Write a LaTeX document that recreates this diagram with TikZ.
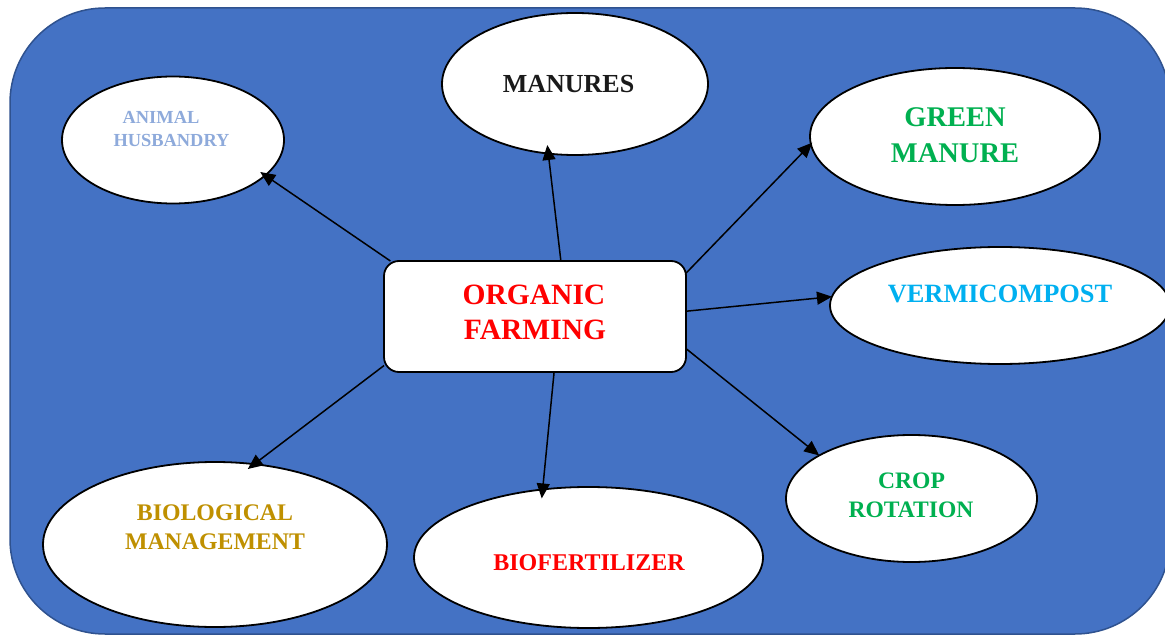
\documentclass[tikz,border=0pt]{standalone}
\usepackage{fontspec}
\setmainfont{Liberation Serif}
\usetikzlibrary{arrows.meta,shapes.geometric}
\definecolor{bgblue}{HTML}{4472C4}
\definecolor{bgedge}{HTML}{2F528F}
\definecolor{lightblue}{HTML}{8EAADB}
\definecolor{grn}{HTML}{00B050}
\definecolor{cyanb}{HTML}{00B0F0}
\definecolor{goldc}{HTML}{BF9000}
\definecolor{txtblack}{HTML}{1A1A1A}
\definecolor{redc}{HTML}{FF0000}
\begin{document}
\begin{tikzpicture}[x=1pt,y=-1pt,
  oval/.style={ellipse,draw=black,line width=1.8pt,fill=white,inner sep=0pt,outer sep=0pt},
  lbl/.style={anchor=base,inner sep=0pt,outer sep=0pt},
  conn/.style={line width=1.5pt,draw=black,-{Triangle[length=15pt,width=13pt]}}]
\useasboundingbox (0,0) rectangle (1165,636);
\clip (0,0) rectangle (1165,636);
\draw[fill=bgblue,draw=bgedge,line width=1.5pt,rounded corners=95pt] (10,8) rectangle (1170,634);

% ellipses
\node[oval,minimum width=222pt,minimum height=127pt] (animal) at (173,140) {};
\node[oval,minimum width=266pt,minimum height=142pt] (manures) at (575,84) {};
\node[oval,minimum width=290pt,minimum height=137pt] (green) at (955,136.5) {};
\node[oval,minimum width=340pt,minimum height=117pt] (vermi) at (1000,305.5) {};
\node[oval,minimum width=251pt,minimum height=127pt] (crop) at (911.5,498.5) {};
\node[oval,minimum width=349pt,minimum height=141pt] (biofert) at (588.5,557.5) {};
\node[oval,minimum width=344pt,minimum height=165pt] (biolog) at (215,544.5) {};

% central box
\node[draw=black,fill=white,rounded corners=15pt,line width=1.8pt,minimum width=302pt,minimum height=111pt,inner sep=0pt,outer sep=0pt] (org) at (535,316.5) {};

% labels
\node[lbl,text=lightblue,font={\bfseries\fontsize{18.4}{20}\selectfont}] (tAnimal) at (161,124) {ANIMAL};
\node[lbl,text=lightblue,font={\bfseries\fontsize{18.4}{20}\selectfont}] (tHusb) at (171.5,147) {HUSBANDRY};
\node[lbl,text=txtblack,font={\bfseries\fontsize{26}{30}\selectfont}] (tManures) at (568.5,93) {MANURES};
\node[lbl,text=grn,font={\bfseries\fontsize{28.5}{32}\selectfont}] (tGreen) at (955,127) {GREEN};
\node[lbl,text=grn,font={\bfseries\fontsize{28.5}{32}\selectfont}] (tManure) at (955,163) {MANURE};
\node[lbl,text=cyanb,font={\bfseries\fontsize{26.4}{30}\selectfont}] (tVermi) at (1000,303) {VERMICOMPOST};
\node[lbl,text=grn,font={\bfseries\fontsize{23.6}{27}\selectfont}] (tCrop) at (911.5,488) {CROP};
\node[lbl,text=grn,font={\bfseries\fontsize{23.6}{27}\selectfont}] (tRot) at (911,517) {ROTATION};
\node[lbl,text=redc,font={\bfseries\fontsize{24}{27}\selectfont}] (tBiofert) at (589,570) {BIOFERTILIZER};
\node[lbl,text=goldc,font={\bfseries\fontsize{23.8}{27}\selectfont}] (tBiol) at (215,520) {BIOLOGICAL};
\node[lbl,text=goldc,font={\bfseries\fontsize{23.8}{27}\selectfont}] (tMgmt) at (215,549) {MANAGEMENT};
\node[lbl,text=redc,font={\bfseries\fontsize{29.5}{33}\selectfont}] (tOrg) at (534,305) {ORGANIC};
\node[lbl,text=redc,font={\bfseries\fontsize{29.5}{33}\selectfont}] (tFarm) at (535,340) {FARMING};

% connectors
\draw[conn,shorten >=-6pt] (org.159.75) -- (animal.-21.1);
\draw[conn,shorten >=-8.6pt] (org.65.6) -- (manures.249.2);
\draw[conn,shorten >=-2pt] (org.16.5) -- (green.183.2);
\draw[conn] (org.2.8) -- (vermi.177.5);
\draw[conn] (org.-12) -- (crop.155);
\draw[conn,shorten >=-9pt] (org.-71) -- (biofert.124);
\draw[conn,shorten >=-8pt] (org.-162.5) -- (biolog.64.3);
\end{tikzpicture}
\end{document}
